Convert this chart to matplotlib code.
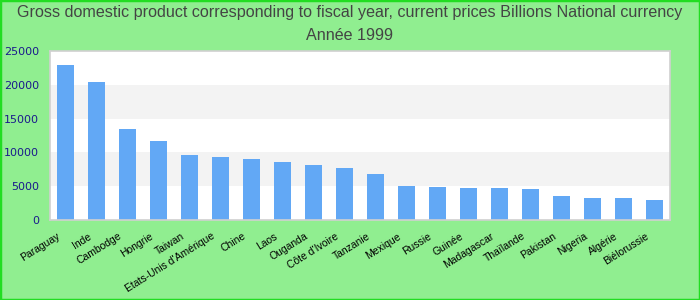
import matplotlib
matplotlib.use("Agg")
import matplotlib.pyplot as plt
from matplotlib.patches import Rectangle
from matplotlib.transforms import ScaledTranslation

countries = ["Paraguay", "Inde", "Cambodge", "Hongrie", "Taiwan", "Etats-Unis d'Amérique",
             "Chine", "Laos", "Ouganda", "Côte d'Ivoire", "Tanzanie", "Mexique", "Russie",
             "Guinée", "Madagascar", "Thaïlande", "Pakistan", "Nigeria", "Algérie", "Biélorussie"]
gdp = [22900, 20400, 13400, 11750, 9680, 9380, 9080, 8630, 8180, 7740,
       6850, 5060, 4910, 4770, 4750, 4610, 3570, 3280, 3260, 2980]
y_ticks = [0, 5000, 10000, 15000, 20000, 25000]

fig = plt.figure(figsize=(7, 3), dpi=100, facecolor="#90ee90")
fig.patches.append(Rectangle((0, 0), 1, 1, transform=fig.transFigure, fill=False,
                             edgecolor="#22dd22", linewidth=2.5, zorder=10))
ax = fig.add_axes([50 / 700, 80 / 300, 620 / 700, 169 / 300])
ax.set_facecolor("white")

# alternating bands
for lo in y_ticks[1::2]:
    ax.axhspan(lo, lo + 5000, color="#f3f3f3", zorder=0, lw=0)

x = range(len(countries))
ax.bar(x, gdp, width=0.55, color="#62a8f5", zorder=2)
ax.set_xlim(-0.5, len(countries) - 0.5)
ax.set_ylim(0, 25000)
ax.set_yticks(y_ticks)
ax.set_yticklabels([str(v) for v in y_ticks], color="#1a1a8c", fontsize=8)
ax.set_xticks(list(x))
ax.set_xticklabels(countries, rotation=32, ha="right", rotation_mode="anchor",
                   fontsize=7.5, family="Liberation Sans")
ax.tick_params(axis="x", length=0, pad=8)
ax.tick_params(axis="y", length=0, pad=8)
# nudge the rotated labels a little to the left
shift = ScaledTranslation(-9 / 100, 0, fig.dpi_scale_trans)
for lbl in ax.get_xticklabels():
    lbl.set_transform(lbl.get_transform() + shift)
for s in ax.spines.values():
    s.set_color("#d0d0d0")
    s.set_linewidth(1.2)

fig.text(0.5, 1 - 13 / 300, "Gross domestic product corresponding to fiscal year, current prices Billions National currency",
         ha="center", va="center", fontsize=11.6, color="#444444", family="Liberation Sans")
fig.text(0.5, 1 - 36 / 300, "Année 1999", ha="center", va="center", fontsize=11.6,
         color="#444444", family="Liberation Sans")

fig.savefig("out.png", dpi=100, facecolor=fig.get_facecolor())
